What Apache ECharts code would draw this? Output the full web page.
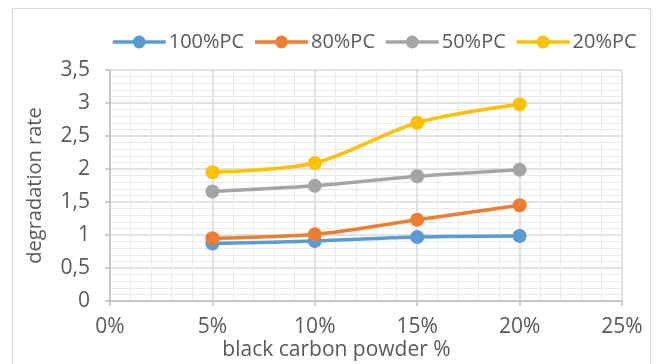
<!DOCTYPE html>
<html><head><meta charset="utf-8">
<script src="https://cdn.jsdelivr.net/npm/echarts@6/dist/echarts.min.js"></script>
<style>html,body{margin:0;padding:0;background:#fff}#c{width:662px;height:364px}</style>
</head><body><div id="c"></div>
<script>
const xValues = [5, 10, 15, 20];
const seriesNames = ['100%PC', '80%PC', '50%PC', '20%PC'];
const pc100 = [0.87, 0.91, 0.97, 0.985];
const pc80 = [0.95, 1.01, 1.23, 1.45];
const pc50 = [1.66, 1.745, 1.89, 1.99];
const pc20 = [1.95, 2.09, 2.70, 2.98];
const colors = ['#5B9BD5', '#ED7D31', '#A5A5A5', '#FFC000'];
const allData = [pc100, pc80, pc50, pc20];

const FONT = 'Open Sans';
const chart = echarts.init(document.getElementById('c'));
chart.setOption({
  animation: false,
  textStyle: { fontFamily: FONT },
  graphic: [
    { type: 'rect', shape: { x: 12.5, y: 8.5, width: 638, height: 370 }, style: { fill: 'none', stroke: '#d9d9d9', lineWidth: 1 }, silent: true },
    { type: 'text', x: 336.5, y: 350, style: { text: 'black carbon powder %', fontFamily: FONT, fontSize: 21, fill: '#595959', align: 'center', verticalAlign: 'middle' } }
  ],
  legend: {
    top: 27, left: 106,
    itemWidth: 53, itemHeight: 16, itemGap: 9,
    lineStyle: { width: 3.5 },
    textStyle: { fontFamily: FONT, fontSize: 20, color: '#595959', padding: [0, 0, 0, -2] },
    data: seriesNames
  },
  grid: { left: 110, right: 40, top: 70, bottom: 63 },
  xAxis: {
    type: 'value', min: 0, max: 25, interval: 5,
    axisLine: { show: true, lineStyle: { color: '#bfbfbf', width: 1.5 } },
    axisTick: { show: true, length: 5, lineStyle: { color: '#bfbfbf', width: 1.5 } },
    axisLabel: { formatter: '{value}%', fontSize: 21, color: '#595959', margin: 16, fontFamily: FONT },
    splitLine: { show: true, lineStyle: { color: '#d9d9d9', width: 1.5 } },
    minorTick: { show: false, splitNumber: 5 },
    minorSplitLine: { show: true, lineStyle: { color: '#ebebeb', width: 1 } }
  },
  yAxis: {
    type: 'value', min: 0, max: 3.5, interval: 0.5,
    name: 'degradation rate', nameLocation: 'middle', nameGap: 65,
    nameTextStyle: { fontSize: 20, color: '#595959', fontFamily: FONT },
    axisLine: { show: true, lineStyle: { color: '#bfbfbf', width: 1.5 } },
    axisTick: { show: true, length: 5, lineStyle: { color: '#bfbfbf', width: 1.5 } },
    axisLabel: { formatter: v => String(v).replace('.', ','), fontSize: 21, color: '#595959', margin: 20, fontFamily: FONT },
    splitLine: { show: true, lineStyle: { color: '#d9d9d9', width: 1.5 } },
    minorTick: { show: false, splitNumber: 5 },
    minorSplitLine: { show: true, lineStyle: { color: '#ebebeb', width: 1 } }
  },
  series: seriesNames.map((n, i) => ({
    name: n, type: 'line', smooth: 0.3,
    data: xValues.map((x, j) => [x, allData[i][j]]),
    symbol: 'circle', symbolSize: 14,
    lineStyle: { color: colors[i], width: 3.5 },
    itemStyle: { color: colors[i] }
  }))
});
</script></body></html>
